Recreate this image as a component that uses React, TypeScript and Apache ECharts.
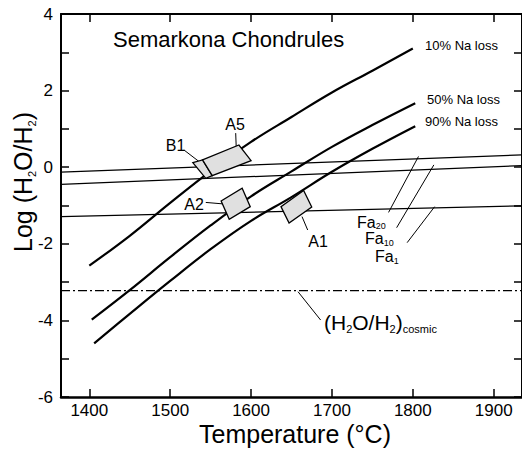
import React, { useEffect, useRef } from 'react';
import * as echarts from 'echarts';

const FONT = '"Liberation Sans", Arial, Helvetica, sans-serif';

// axis ticks / labels
const xTicks = [1400, 1500, 1600, 1700, 1800, 1900];
const yLabelValues = [-6, -4, -2, 0, 2, 4];

// Na-loss curves (temperature °C, log H2O/H2)
const na10T = [1400, 1450, 1500, 1550, 1600, 1650, 1700, 1750, 1800];
const na10 = [-2.57, -1.79, -0.93, -0.1, 0.66, 1.31, 1.95, 2.52, 3.1];
const na50T = [1403, 1450, 1500, 1550, 1600, 1650, 1700, 1750, 1803];
const na50 = [-3.98, -3.21, -2.35, -1.52, -0.76, -0.11, 0.53, 1.1, 1.67];
const na90T = [1406, 1450, 1500, 1550, 1600, 1650, 1700, 1750, 1803];
const na90 = [-4.6, -3.83, -2.97, -2.14, -1.4, -0.78, -0.12, 0.48, 1.07];

// fayalite buffer lines
const faT = [1365, 1935];
const fa20 = [-0.13, 0.323];
const fa10 = [-0.45, 0.043];
const fa1 = [-1.29, -1.008];

// cosmic ratio
const cosmicT = [1365, 1935];
const cosmic = [-3.22, -3.22];

// chondrule boxes (corners: temperature, log H2O/H2)
const boxB1 = [[1528, 0.12], [1540, 0.19], [1552, -0.22], [1544, -0.29]];
const boxA5 = [[1540, 0.19], [1585, 0.58], [1600, 0.17], [1552, -0.22]];
const boxA2 = [[1589, -0.55], [1599, -1.03], [1573, -1.36], [1563, -0.88]];
const boxA1 = [[1665, -0.61], [1675, -1.04], [1647, -1.46], [1637, -1.03]];
const boxes = [boxB1, boxA5, boxA2, boxA1];

// leader lines for annotations
const leaderB1 = [[1517, 0.45], [1538, 0.11]];
const leaderA5 = [[1581, 0.89], [1582, 0.32]];
const leaderA2 = [[1544, -0.92], [1583, -0.99]];
const leaderA1 = [[1663, -1.29], [1670, -1.64]];
const leaderFa20 = [[1770, -1.18], [1807, 0.28]];
const leaderFa10 = [[1780, -1.58], [1826, 0.06]];
const leaderFa1 = [[1793, -1.97], [1827, -1.03]];
const leaderCosmic = [[1658, -3.25], [1686, -3.99]];
const leaders = [leaderB1, leaderA5, leaderA2, leaderA1, leaderFa20, leaderFa10, leaderFa1, leaderCosmic];

const zip = (xs: number[], ys: number[]) => xs.map((x, i) => [x, ys[i]]);

function axisCommon(showLabels: boolean, isX: boolean, lineWidth: number) {
  return {
    type: 'value',
    axisLine: { show: true, onZero: false, lineStyle: { color: '#000', width: lineWidth } },
    axisTick: isX
      ? { show: true, inside: true, length: 8, customValues: xTicks, lineStyle: { color: '#000', width: 1.5 } }
      : { show: true, inside: true, length: 8, lineStyle: { color: '#000', width: 1.5 } },
    axisLabel: showLabels
      ? {
          show: true,
          customValues: isX ? xTicks : yLabelValues,
          formatter: (v: number) => String(v),
          color: '#000',
          fontSize: 17,
          fontFamily: FONT,
          margin: isX ? 5 : 8,
        }
      : { show: false },
    splitLine: { show: false },
  };
}

export default function App() {
  const ref = useRef<HTMLDivElement>(null);
  useEffect(() => {
    if (!ref.current) return;
    const chart = echarts.init(ref.current, undefined, { renderer: 'svg' });

    const lineSeries = (data: number[][], width: number, type: any = 'solid') => ({
      type: 'line',
      data,
      showSymbol: false,
      symbol: 'none',
      silent: true,
      smooth: false,
      clip: true,
      lineStyle: { color: '#000', width, type },
      z: 2,
    });

    const curve = (data: number[][]) => ({
      ...lineSeries(data, 2.2),
      smooth: 0.4,
    });

    const subRich = (main: number, sub: number, lh: number) => ({
      m: { fontSize: main, fontFamily: FONT, lineHeight: lh, fill: '#000' },
      s: { fontSize: sub, fontFamily: FONT, lineHeight: sub, verticalAlign: 'bottom', fill: '#000' },
    });

    const txt = (text: string, x: number, y: number, size: number, align = 'left') => ({
      type: 'text', x, y,
      style: { text, fontSize: size, fontFamily: FONT, fill: '#000', align, verticalAlign: 'middle' },
    });

    const faLabels = [
      { x: 357, y: 222, sub: '20' },
      { x: 365, y: 238.5, sub: '10' },
      { x: 375, y: 256.5, sub: '1' },
    ];

    const option: any = {
      animation: false,
      grid: { left: 61, top: 14, width: 464, height: 383 },
      xAxis: [
        { ...axisCommon(true, true, 2.5), position: 'bottom', min: 1365, max: 1935 },
        { ...axisCommon(false, true, 2), position: 'top', min: 1365, max: 1935 },
      ],
      yAxis: [
        { ...axisCommon(true, false, 2), position: 'left', min: -6, max: 4, interval: 1 },
        { ...axisCommon(false, false, 2), position: 'right', min: -6, max: 4, interval: 1 },
      ],
      series: [
        lineSeries(zip(faT, fa20), 1.3),
        lineSeries(zip(faT, fa10), 1.3),
        lineSeries(zip(faT, fa1), 1.3),
        lineSeries(zip(cosmicT, cosmic), 1.3, [9, 3, 2, 3]),
        curve(zip(na10T, na10)),
        curve(zip(na50T, na50)),
        curve(zip(na90T, na90)),
        ...leaders.map((l) => lineSeries(l, 1)),
        {
          type: 'custom',
          coordinateSystem: 'cartesian2d',
          silent: true,
          z: 5,
          clip: false,
          data: boxes.map((b) => b[0]),
          renderItem: (params: any, api: any) => {
            const box = boxes[params.dataIndex];
            return {
              type: 'polygon',
              shape: { points: box.map((p) => api.coord(p)) },
              style: { fill: '#e0e0e0', stroke: '#000', lineWidth: 1.3 },
            };
          },
        },
      ],
      graphic: [
        txt('Semarkona Chondrules', 113, 39.5, 22),
        txt('10% Na loss', 425, 45, 13),
        txt('50% Na loss', 427, 99, 13),
        txt('90% Na loss', 425, 121, 13),
        txt('B1', 175.5, 145, 16, 'center'),
        txt('A5', 235, 124, 16, 'center'),
        txt('A2', 194, 204, 16, 'center'),
        txt('A1', 318, 241.5, 16, 'center'),
        ...faLabels.map((f) => txt('Fa', f.x, f.y, 16)),
        ...faLabels.map((f) => txt(f.sub, f.x + 18.7, f.y + 4, 9)),
        {
          type: 'text', x: 324, y: 322,
          style: {
            text: '{m|(H}{s|2}{m|O/H}{s|2}{m|)}{s|cosmic}', align: 'left', verticalAlign: 'middle', fill: '#000',
            rich: subRich(21, 11, 24),
          },
        },
        {
          type: 'text', x: 23, y: 182, rotation: Math.PI / 2,
          style: {
            text: '{m|Log (H}{s|2}{m|O/H}{s|2}{m|)}', align: 'center', verticalAlign: 'middle', fill: '#000',
            rich: subRich(25, 11, 28),
          },
        },
        txt('Temperature (°C)', 295, 434, 25, 'center'),
      ],
    };
    chart.setOption(option);
    return () => chart.dispose();
  }, []);
  return (
    <div
      ref={ref}
      style={{ position: 'fixed', left: 0, top: 0, width: 522, height: 449, background: '#fff' }}
    />
  );
}
